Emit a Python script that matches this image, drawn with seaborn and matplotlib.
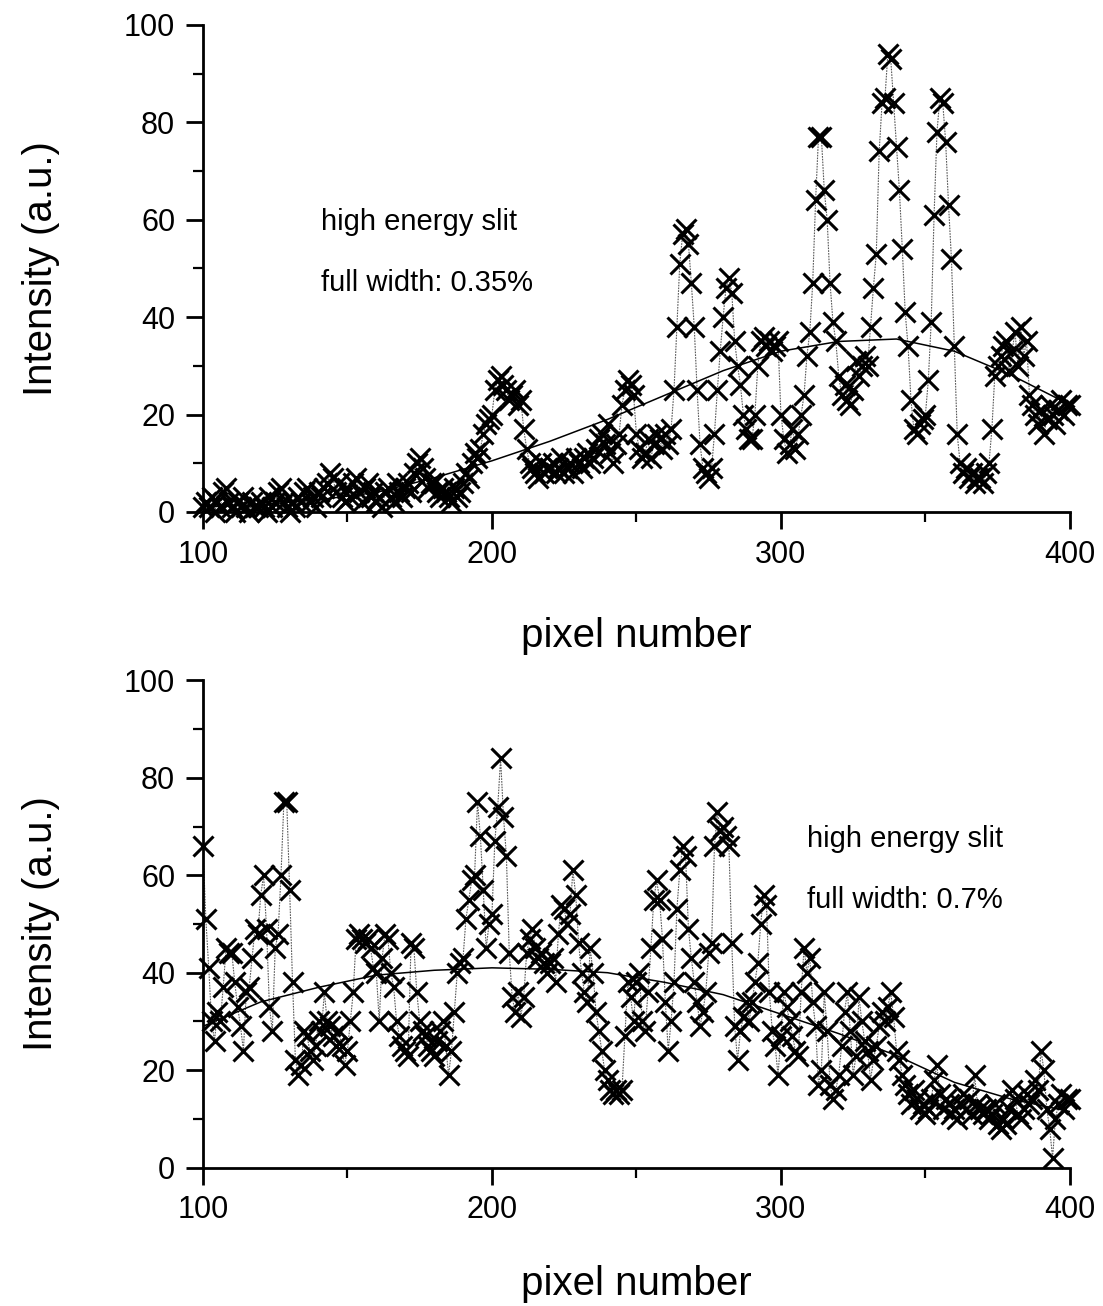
import numpy as np
import pandas as pd
import seaborn as sns
import matplotlib
import matplotlib.pyplot as plt
from matplotlib.ticker import MultipleLocator
plt.switch_backend('agg')

# pixel positions shared by both spectra
pixels = list(range(100, 401))

# 0.35% slit, intensity per pixel
top_intensity = [
    1, 2, 1, 3, 0, 2, 1, 4, 5, 2,
    1, 0, 2, 1, 3, 1, 0, 2, 1, 1,
    2, 1, 0, 3, 1, 2, 4, 5, 2, 1,
    0, 2, 1, 3, 2, 4, 5, 2, 3, 1,
    4, 3, 5, 6, 8, 7, 4, 6, 3, 2,
    5, 3, 6, 7, 4, 2, 5, 6, 3, 4,
    2, 3, 1, 4, 5, 3, 2, 6, 4, 3,
    5, 6, 4, 8, 10, 11, 9, 7, 5, 6,
    6, 4, 3, 5, 4, 3, 2, 5, 3, 4,
    6, 8, 7, 10, 12, 11, 13, 16, 18, 19,
    20, 25, 27, 28, 26, 25, 23, 24, 25, 22,
    23, 17, 13, 10, 9, 8, 7, 10, 8, 9,
    9, 10, 8, 9, 11, 8, 9, 10, 8, 11,
    10, 9, 11, 12, 10, 11, 13, 15, 16, 14,
    18, 12, 10, 14, 16, 22, 25, 27, 26, 24,
    16, 13, 11, 12, 15, 11, 14, 16, 15, 13,
    16, 14, 17, 25, 38, 51, 57, 58, 55, 47,
    38, 25, 14, 9, 8, 7, 9, 16, 25, 33,
    40, 46, 48, 45, 35, 30, 26, 20, 17, 15,
    15, 20, 30, 35, 36, 34, 35, 33, 34, 35,
    20, 15, 12, 14, 17, 13, 16, 20, 24, 32,
    37, 47, 64, 77, 77, 66, 60, 47, 39, 35,
    28, 24, 26, 23, 22, 25, 31, 28, 30, 32,
    30, 38, 46, 53, 74, 84, 85, 94, 93, 84,
    75, 66, 54, 41, 34, 23, 17, 16, 18, 19,
    20, 27, 39, 61, 78, 85, 84, 76, 63, 52,
    34, 16, 10, 8, 9, 7, 8, 6, 7, 7,
    6, 8, 10, 17, 28, 30, 32, 34, 35, 29,
    33, 37, 30, 38, 32, 35, 24, 22, 20, 18,
    21, 16, 19, 22, 20, 18, 21, 23, 20, 22,
    22,
]

# 0.7% slit
bottom_intensity = [
    66, 51, 41, 30, 26, 32, 30, 37, 45, 44,
    44, 38, 33, 29, 24, 36, 37, 43, 49, 48,
    56, 60, 49, 33, 28, 45, 48, 60, 75, 75,
    57, 38, 22, 19, 21, 28, 27, 24, 22, 25,
    30, 28, 36, 30, 29, 27, 25, 28, 25, 21,
    24, 30, 36, 47, 48, 47, 46, 47, 45, 41,
    40, 30, 43, 48, 47, 40, 37, 30, 27, 25,
    24, 23, 46, 45, 36, 30, 28, 27, 25, 24,
    23, 26, 28, 30, 25, 19, 24, 32, 40, 42,
    43, 51, 55, 59, 60, 75, 68, 57, 45, 50,
    52, 67, 74, 84, 72, 64, 44, 35, 32, 36,
    31, 35, 44, 47, 49, 45, 43, 44, 42, 40,
    42, 43, 38, 48, 54, 53, 50, 52, 61, 56,
    46, 40, 36, 34, 45, 40, 32, 28, 24, 20,
    18, 16, 15, 16, 15, 16, 27, 38, 35, 30,
    38, 40, 30, 28, 36, 45, 55, 59, 55, 47,
    34, 24, 30, 38, 53, 61, 66, 64, 49, 43,
    38, 34, 29, 32, 36, 44, 46, 66, 73, 69,
    70, 68, 66, 46, 29, 22, 28, 31, 34, 30,
    34, 38, 42, 50, 56, 54, 36, 28, 25, 19,
    27, 36, 33, 30, 27, 24, 23, 36, 45, 40,
    43, 34, 29, 17, 20, 36, 28, 17, 14, 16,
    19, 25, 32, 36, 28, 19, 23, 35, 30, 26,
    24, 18, 22, 25, 29, 32, 30, 33, 36, 31,
    24, 22, 19, 17, 15, 13, 16, 14, 12, 13,
    11, 12, 14, 18, 21, 15, 12, 14, 13, 11,
    12, 10, 13, 15, 12, 14, 11, 19, 13, 12,
    11, 12, 10, 11, 13, 9, 8, 10, 9, 12,
    16, 14, 11, 10, 12, 15, 13, 14, 18, 16,
    24, 20, 12, 8, 2, 10, 13, 15, 12, 14,
    14,
]

# fitted background curves, read every 20 pixels
fit_pixels = list(range(100, 401, 20))
top_fit = [1, 1.5, 2.5, 4, 7, 10.5, 14.5, 19, 24, 29, 33, 35, 35.5, 33, 28, 22]
bottom_fit = [29, 34, 37, 39.5, 40.5, 41, 40.7, 40, 38, 35.5, 31.5, 27.5, 23, 17.5, 14, 11.5]

labels = [["high energy slit", "full width: 0.35%"],
          ["high energy slit", "full width: 0.7%"]]

sns.set_style("ticks")
plt.rcParams['font.family'] = ['Liberation Sans', 'DejaVu Sans']
matplotlib.rcParams['axes.linewidth'] = 2.0

fig = plt.figure(figsize=(11.03, 13.06), dpi=100)
ax_top = fig.add_axes([0.184, 0.608, 0.786, 0.373])
ax_bot = fig.add_axes([0.184, 0.106, 0.786, 0.373])

panels = [
    (ax_top, top_intensity, top_fit, labels[0], (141, 59.5, 47), -0.215),
    (ax_bot, bottom_intensity, bottom_fit, labels[1], (309, 67.5, 55), -0.200),
]

for ax, vals, fit, txt, (tx, ty1, ty2), xlab_y in panels:
    df = pd.DataFrame({'pixel': pixels, 'intensity': vals})
    fdf = pd.DataFrame({'pixel': fit_pixels, 'intensity': fit})
    sns.lineplot(data=df, x='pixel', y='intensity', ax=ax, sort=False,
                 color='0.35', lw=0.8, linestyle=(0, (1.5, 1)), zorder=2)
    sns.lineplot(data=df, x='pixel', y='intensity', ax=ax, sort=False,
                 marker='x', markersize=15, markeredgewidth=2.2,
                 markeredgecolor='black', linestyle='none', zorder=3,
                 clip_on=False)
    sns.lineplot(data=fdf, x='pixel', y='intensity', ax=ax, sort=False,
                 color='black', lw=1.1, zorder=4)
    ax.set_xlim(100, 400)
    ax.set_ylim(0, 100)
    ax.xaxis.set_major_locator(MultipleLocator(100))
    ax.xaxis.set_minor_locator(MultipleLocator(50))
    ax.yaxis.set_major_locator(MultipleLocator(20))
    ax.yaxis.set_minor_locator(MultipleLocator(10))
    ax.tick_params(which='major', length=12, width=2.0, labelsize=22, pad=8,
                   color='black', labelcolor='black')
    ax.tick_params(which='minor', length=7, width=1.6, color='black')
    sns.despine(ax=ax)
    ax.spines['left'].set_color('black')
    ax.spines['bottom'].set_color('black')
    ax.set_xlabel('pixel number', fontsize=29, color='black')
    ax.set_ylabel('Intensity (a.u.)', fontsize=29, color='black')
    ax.xaxis.set_label_coords(0.5, xlab_y)
    ax.yaxis.set_label_coords(-0.165, 0.5)
    ax.text(tx, ty1, txt[0], fontsize=21, va='center', color='black')
    ax.text(tx, ty2, txt[1], fontsize=21, va='center', color='black')

fig.savefig('out.png', dpi=100)
